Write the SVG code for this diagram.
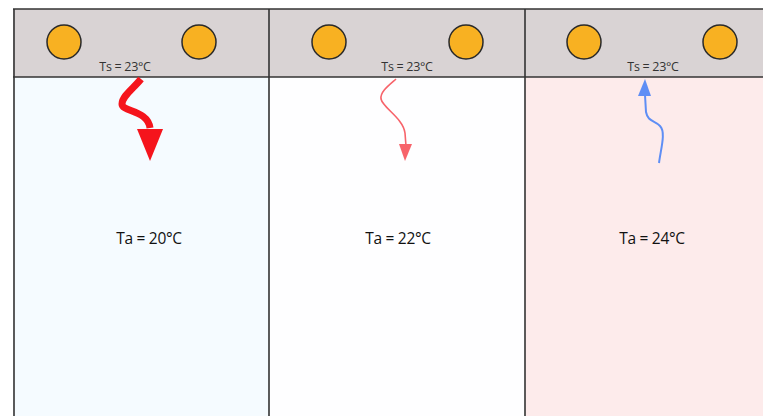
<svg xmlns="http://www.w3.org/2000/svg" width="763" height="416" viewBox="0 0 763 416">
<defs>
<style>
.sun{fill:#f8b122;stroke:#2a2a2a;stroke-width:1.5}
.ln{stroke:#333;stroke-width:1.6;fill:none}
.ts{font-family:"Open Sans","Liberation Sans",sans-serif;font-size:12.5px;fill:#333;text-anchor:middle;letter-spacing:-0.3px}
.ta{font-family:"Open Sans","Liberation Sans",sans-serif;font-size:15.5px;fill:#111;text-anchor:middle;letter-spacing:-0.3px}
</style>
</defs>
<rect x="0" y="0" width="763" height="416" fill="#fff"/>
<g id="panel1">
<rect x="13" y="77" width="256" height="339" fill="#f5fbff"/>
<text class="ta" x="149" y="244">Ta = 20°C</text>
</g>
<g id="panel2">
<rect x="269" y="77" width="256" height="339" fill="#fefeff"/>
<text class="ta" x="398" y="244">Ta = 22°C</text>
</g>
<g id="panel3">
<rect x="525" y="77" width="238" height="339" fill="#fdebeb"/>
<text class="ta" x="652" y="244">Ta = 24°C</text>
</g>
<g id="ceiling">
<rect x="13" y="9" width="750" height="68" fill="#d9d3d4"/>
<circle class="sun" cx="64" cy="42" r="17"/>
<circle class="sun" cx="199" cy="42" r="17"/>
<circle class="sun" cx="329" cy="42" r="17"/>
<circle class="sun" cx="466" cy="42" r="17"/>
<circle class="sun" cx="584" cy="42" r="17"/>
<circle class="sun" cx="720" cy="42" r="17"/>
<text class="ts" x="125" y="71">Ts = 23°C</text>
<text class="ts" x="407" y="71">Ts = 23°C</text>
<text class="ts" x="653" y="71">Ts = 23°C</text>
</g>
<g id="frame">
<line class="ln" x1="13" y1="9" x2="763" y2="9" stroke="#888"/>
<line class="ln" x1="13" y1="77" x2="763" y2="77"/>
<line class="ln" x1="14" y1="9" x2="14" y2="416"/>
<line class="ln" x1="269" y1="9" x2="269" y2="416"/>
<line class="ln" x1="525" y1="9" x2="525" y2="416"/>
</g>
<g id="connectors">
<path d="M141,79 C134,88 122,96 122,104 C122,112 148,110 150,128" fill="none" stroke="#f5141c" stroke-width="7"/>
<path d="M137,129 L163,129 L150,161 Z" fill="#f5141c"/>
<path d="M396,79 C388,86 380,92 381,99 C383,108 403,118 405,133 L406,146" fill="none" stroke="#f7636a" stroke-width="1.6"/>
<path d="M399,144 L412,144 L405,161 Z" fill="#f7636a"/>
<path d="M659,163 C661,148 666,132 660,126 C654,120 648,122 646,112 L645,95" fill="none" stroke="#5e8ef5" stroke-width="2"/>
<path d="M638,96 L651,96 L645,79 Z" fill="#5e8ef5"/>
</g>
</svg>
